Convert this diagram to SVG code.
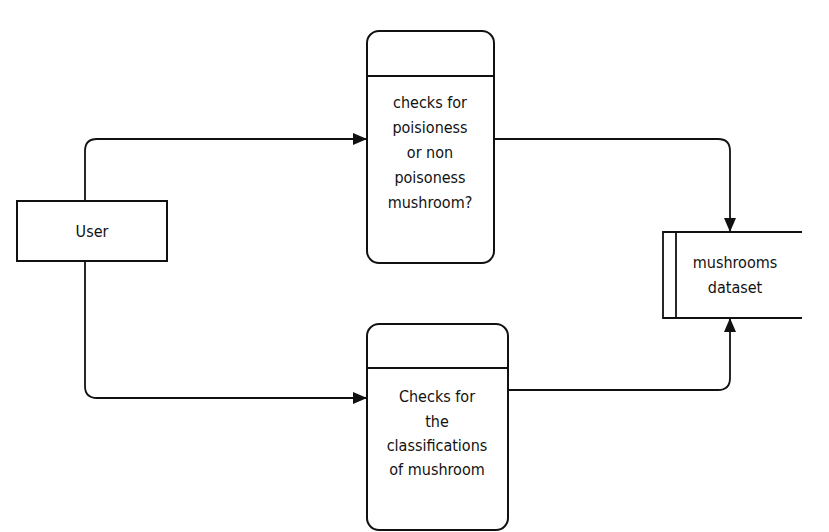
<svg xmlns="http://www.w3.org/2000/svg" width="829" height="532" viewBox="0 0 829 532">
<style>
.s{fill:#fff;stroke:#111;stroke-width:2}
.ln{fill:none;stroke:#111;stroke-width:1.8}
.t{font-family:"DejaVu Sans Condensed","DejaVu Sans",sans-serif;font-size:16px;fill:#111;text-anchor:middle}
</style>
<defs>
<marker id="ah" markerWidth="14" markerHeight="12" refX="14" refY="6" orient="auto" markerUnits="userSpaceOnUse">
<path d="M0,0 L14,6 L0,12 Z" fill="#111"/>
</marker>
</defs>
<rect width="829" height="532" fill="#fff"/>
<g id="connectors">
<path class="ln" d="M85,201 V151 Q85,139 97,139 H367" marker-end="url(#ah)"/>
<path class="ln" d="M85,261 V386 Q85,398 97,398 H367" marker-end="url(#ah)"/>
<path class="ln" d="M494,139 H718 Q730,139 730,151 V232" marker-end="url(#ah)"/>
<path class="ln" d="M508,390 H718 Q730,390 730,378 V318" marker-end="url(#ah)"/>
</g>
<g id="user">
<rect class="s" x="17" y="201" width="150" height="60"/>
<text class="t" x="92" y="237">User</text>
</g>
<g id="check-poison">
<rect class="s" x="367" y="31" width="127" height="232" rx="12"/>
<line class="ln" x1="367" y1="76" x2="494" y2="76"/>
<text class="t" x="430" y="108">checks for</text>
<text class="t" x="430" y="133">poisioness</text>
<text class="t" x="430" y="158">or non</text>
<text class="t" x="430" y="183">poisoness</text>
<text class="t" x="430" y="208">mushroom?</text>
</g>
<g id="check-class">
<rect class="s" x="367" y="324" width="141" height="206" rx="12"/>
<line class="ln" x1="367" y1="368" x2="508" y2="368"/>
<text class="t" x="437" y="402">Checks for</text>
<text class="t" x="437" y="427">the</text>
<text class="t" x="437" y="451">classifications</text>
<text class="t" x="437" y="475">of mushroom</text>
</g>
<g id="dataset">
<path fill="#fff" stroke="none" d="M663,232 H802 V318 H663 Z"/>
<path class="ln" d="M802,232 H663 V318 H802 M676,232 V318" stroke-width="2"/>
<text class="t" x="735" y="268">mushrooms</text>
<text class="t" x="735" y="293">dataset</text>
</g>
</svg>
